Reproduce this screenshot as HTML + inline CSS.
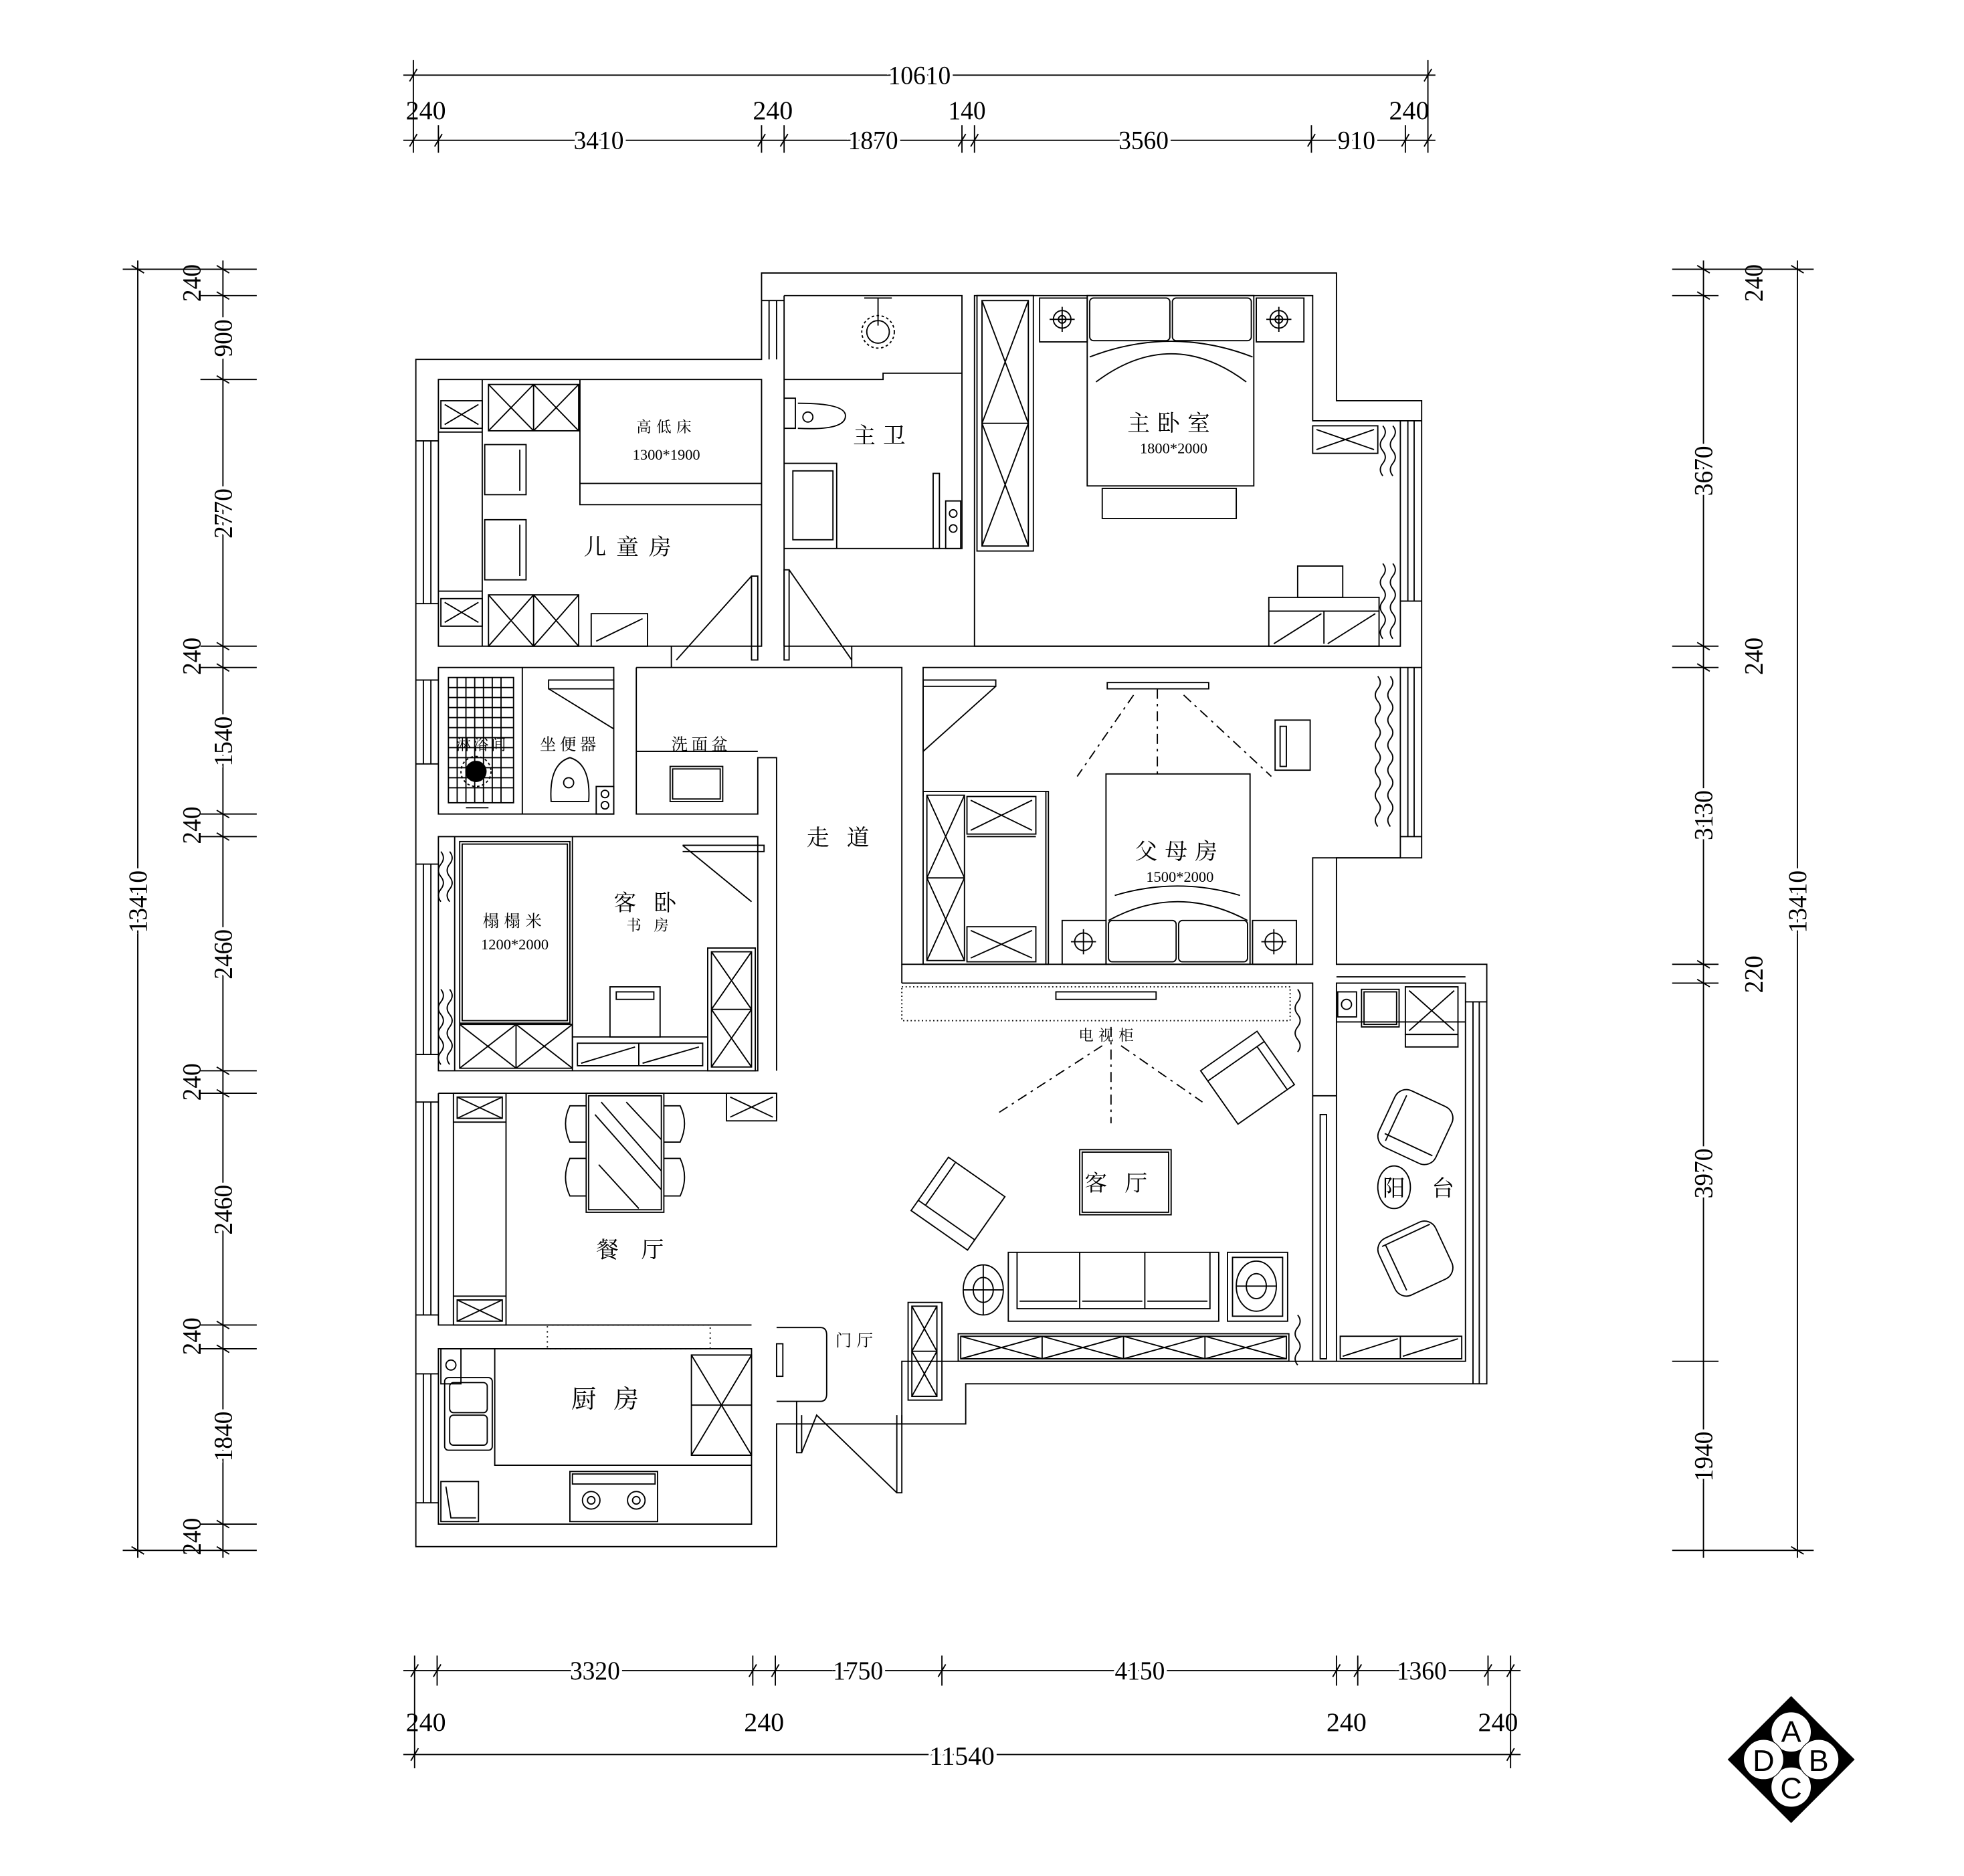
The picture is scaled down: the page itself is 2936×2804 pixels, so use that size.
<!DOCTYPE html>
<html><head><meta charset="utf-8"><style>
html,body{margin:0;padding:0;background:#fff;}
svg{display:block;}
.d{font-family:"Liberation Serif",serif;font-size:21px;}
.c{font-family:"Liberation Serif","Noto Serif CJK SC",serif;}
</style></head><body>
<svg width="2936" height="2804" viewBox="0 0 1568 1498" preserveAspectRatio="none" xmlns="http://www.w3.org/2000/svg">
<rect x="0" y="0" width="1568" height="1498" fill="#fff"/>
<g stroke="#000" stroke-width="1" fill="none">
<!-- TOP DIMENSIONS -->
<line x1="322" y1="60" x2="1146" y2="60"/>
<line x1="322" y1="112" x2="1146" y2="112"/>
<line x1="330" y1="48" x2="330" y2="122"/><line x1="1140" y1="48" x2="1140" y2="122"/>
<line x1="350" y1="100" x2="350" y2="122"/><line x1="608" y1="100" x2="608" y2="122"/><line x1="626" y1="100" x2="626" y2="122"/>
<line x1="768" y1="100" x2="768" y2="122"/><line x1="778" y1="100" x2="778" y2="122"/><line x1="1047" y1="100" x2="1047" y2="122"/><line x1="1122" y1="100" x2="1122" y2="122"/>
<path d="M327,65 L333,55 M1137,65 L1143,55 M327,117 L333,107 M347,117 L353,107 M605,117 L611,107 M623,117 L629,107 M765,117 L771,107 M775,117 L781,107 M1044,117 L1050,107 M1119,117 L1125,107 M1137,117 L1143,107"/>
<!-- LEFT DIMENSIONS -->
<line x1="110" y1="208" x2="110" y2="1244"/>
<line x1="178" y1="208" x2="178" y2="1244"/>
<path d="M98,215 L205,215 M160,236 L205,236 M160,303 L205,303 M160,516 L205,516 M160,533 L205,533 M160,650 L205,650 M160,668 L205,668 M160,855 L205,855 M160,873 L205,873 M160,1058 L205,1058 M160,1077 L205,1077 M160,1217 L205,1217 M98,1238 L205,1238"/>
<path d="M105,212 L115,218 M105,1235 L115,1241 M173,212 L183,218 M173,233 L183,239 M173,300 L183,306 M173,513 L183,519 M173,530 L183,536 M173,647 L183,653 M173,665 L183,671 M173,852 L183,858 M173,870 L183,876 M173,1055 L183,1061 M173,1074 L183,1080 M173,1214 L183,1220 M173,1235 L183,1241"/>
<!-- RIGHT DIMENSIONS -->
<line x1="1360" y1="208" x2="1360" y2="1244"/>
<line x1="1435" y1="208" x2="1435" y2="1244"/>
<path d="M1335,215 L1448,215 M1335,236 L1372,236 M1335,516 L1372,516 M1335,533 L1372,533 M1335,770 L1372,770 M1335,785 L1372,785 M1335,1087 L1372,1087 M1335,1238 L1448,1238"/>
<path d="M1355,212 L1365,218 M1355,233 L1365,239 M1355,513 L1365,519 M1355,530 L1365,536 M1355,767 L1365,773 M1355,782 L1365,788 M1430,212 L1440,218 M1430,1235 L1440,1241"/>
<!-- BOTTOM DIMENSIONS -->
<line x1="322" y1="1334" x2="1214" y2="1334"/>
<line x1="322" y1="1401" x2="1214" y2="1401"/>
<path d="M331,1322 L331,1412 M349,1322 L349,1346 M601,1322 L601,1346 M619,1322 L619,1346 M752,1322 L752,1346 M1067,1322 L1067,1346 M1084,1322 L1084,1346 M1188,1322 L1188,1346 M1206,1322 L1206,1412"/>
<path d="M328,1339 L334,1329 M346,1339 L352,1329 M598,1339 L604,1329 M616,1339 L622,1329 M749,1339 L755,1329 M1064,1339 L1070,1329 M1081,1339 L1087,1329 M1185,1339 L1191,1329 M1203,1339 L1209,1329 M328,1406 L334,1396 M1203,1406 L1209,1396"/>

<!-- OUTER WALL -->
<path d="M332,287 L608,287 L608,218 L1067,218 L1067,320 L1135,320 L1135,685 L1067,685 L1067,770 L1187,770 L1187,1105 L771,1105 L771,1137 L620,1137 L620,1235 L332,1235 Z"/>
<!-- inner rooms -->
<path d="M350,303 L608,303 L608,516 L350,516 Z"/>
<path d="M626,236 L768,236 L768,438 L626,438"/>
<path d="M626,236 L626,516"/>
<path d="M778,236 L1048,236 L1048,336 L1118,336 L1118,516 L778,516 Z"/>
<line x1="626" y1="516" x2="1118" y2="516"/>
<path d="M350,533 L490,533 L490,650 L350,650 Z"/>
<path d="M508,533 L720,533 L720,770 L1048,770 L1048,685 L1118,685 L1118,533 L737,533 L737,636"/>
<path d="M508,533 L508,650 L605,650 L605,605 L620,605 L620,855"/>
<path d="M350,668 L605,668 L605,855 L350,855 Z"/>
<path d="M350,873 L620,873 L620,893 M350,873 L350,1058 L600,1058"/>
<path d="M350,1077 L600,1077 L600,1217 L350,1217 Z"/>
<path d="M720,785 L1048,785 L1048,1087 L720,1087 L720,1137"/>
<path d="M1067,785 L1170,785 L1170,1087 L1067,1087 Z"/>
<path d="M720,770 L720,785"/>
<!-- windows -->
<path d="M332,352 L350,352 M332,482 L350,482 M338,352 L338,482 M344,352 L344,482"/>
<path d="M332,543 L350,543 M332,610 L350,610 M338,543 L338,610 M344,543 L344,610"/>
<path d="M332,690 L350,690 M332,842 L350,842 M338,690 L338,842 M344,690 L344,842"/>
<path d="M332,880 L350,880 M332,1050 L350,1050 M338,880 L338,1050 M344,880 L344,1050"/>
<path d="M332,1097 L350,1097 M332,1200 L350,1200 M338,1097 L338,1200 M344,1097 L344,1200"/>
<path d="M608,240 L626,240 M614,240 L614,287 M620,240 L620,287"/>
<path d="M1118,336 L1135,336 M1118,480 L1135,480 M1124,336 L1124,480 M1129,336 L1129,480"/>
<path d="M1118,533 L1135,533 M1118,668 L1135,668 M1124,533 L1124,668 M1129,533 L1129,668"/>
<path d="M1170,800 L1187,800 M1176,800 L1176,1105 M1181,800 L1181,1105"/>

<!-- KIDS ROOM -->
<rect x="352" y="320" width="33" height="22"/><path d="M355,323 L382,339 M382,323 L355,339"/>
<rect x="390" y="307" width="72" height="37"/><path d="M390,307 L426,344 M426,307 L390,344 M426,307 L462,344 M462,307 L426,344 M426,307 L426,344"/>
<path d="M463,303 L463,403 L608,403 M463,386 L608,386"/>
<path d="M350,345 L385,345 L385,472 L350,472 M385,303 L385,516"/>
<rect x="387" y="355" width="33" height="40"/><line x1="415" y1="359" x2="415" y2="392"/>
<rect x="387" y="415" width="33" height="48"/><line x1="415" y1="419" x2="415" y2="460"/>
<rect x="352" y="478" width="33" height="22"/><path d="M355,481 L382,497 M382,481 L355,497"/>
<rect x="390" y="475" width="72" height="41"/><path d="M390,475 L426,516 M426,475 L390,516 M426,475 L462,516 M462,475 L426,516 M426,475 L426,516"/>
<rect x="472" y="490" width="45" height="26"/><path d="M476,512 L513,494"/>
<path d="M600,460 L600,527 L605,527 L605,460 Z M600,460 L540,527 M536,516 L536,533"/>
<!-- MASTER BATH -->
<path d="M626,303 L705,303 L705,298 L768,298"/>
<path d="M690,238 L712,238 M701,238 L701,260"/>
<circle cx="701" cy="265" r="9"/><circle cx="701" cy="265" r="13" stroke-dasharray="2,2"/>
<path d="M626,318 L635,318 L635,342 L626,342 M637,322 Q675,322 675,332 Q675,344 637,342"/>
<circle cx="645" cy="333" r="4"/>
<path d="M626,370 L668,370 L668,438"/>
<rect x="633" y="376" width="32" height="55"/>
<path d="M745,378 L750,378 L750,438 L745,438 Z"/>
<rect x="755" y="400" width="12" height="38"/><circle cx="761" cy="410" r="3"/><circle cx="761" cy="422" r="3"/>
<path d="M626,455 L630,455 L630,527 L626,527 Z M630,455 L680,527 M680,516 L680,533"/>
<!-- WARDROBE -->
<rect x="780" y="236" width="45" height="204"/>
<rect x="784" y="240" width="37" height="196"/>
<path d="M784,338 L821,338 M784,240 L821,338 M821,240 L784,338 M784,338 L821,436 M821,338 L784,436"/>
<!-- MASTER BED -->
<rect x="830" y="238" width="38" height="35"/><circle cx="848" cy="255" r="7"/><circle cx="848" cy="255" r="3"/><path d="M838,255 L858,255 M848,245 L848,265"/>
<rect x="1003" y="238" width="38" height="35"/><circle cx="1021" cy="255" r="7"/><circle cx="1021" cy="255" r="3"/><path d="M1011,255 L1031,255 M1021,245 L1021,265"/>
<rect x="868" y="236" width="133" height="152"/>
<rect x="870" y="238" width="64" height="34" rx="3"/><rect x="936" y="238" width="63" height="34" rx="3"/>
<path d="M870,285 Q935,260 1000,285 M875,305 Q935,260 995,305"/>
<rect x="880" y="390" width="107" height="24"/>
<rect x="1048" y="340" width="52" height="22"/><path d="M1051,343 L1097,359 M1097,343 L1051,359"/>
<path d="M1104,340 Q1108,345 1104,350 Q1100,355 1104,360 Q1108,365 1104,370 Q1100,375 1104,380 M1112,340 Q1116,345 1112,350 Q1108,355 1112,360 Q1116,365 1112,370 Q1108,375 1112,380 M1104,450 Q1108,455 1104,460 Q1100,465 1104,470 Q1108,475 1104,480 Q1100,485 1104,490 Q1108,495 1104,500 Q1100,505 1104,510 M1112,450 Q1116,455 1112,460 Q1108,465 1112,470 Q1116,475 1112,480 Q1108,485 1112,490 Q1116,495 1112,500 Q1108,505 1112,510"/>
<rect x="1036" y="452" width="36" height="25"/>
<rect x="1013" y="477" width="88" height="39"/><path d="M1013,488 L1101,488 M1057,488 L1057,514 M1017,514 L1055,490 M1060,514 L1098,490"/>
<!-- BATHROOM -->
<rect x="358" y="541" width="52" height="100"/>
<path d="M365,541 V641 M372,541 V641 M379,541 V641 M386,541 V641 M393,541 V641 M400,541 V641 M358,549 H410 M358,557 H410 M358,565 H410 M358,573 H410 M358,581 H410 M358,589 H410 M358,597 H410 M358,605 H410 M358,613 H410 M358,621 H410 M358,629 H410"/>
<circle cx="380" cy="616" r="8" fill="#000"/><circle cx="380" cy="616" r="12" stroke-dasharray="2,2"/>
<path d="M372,645 L390,645"/>
<line x1="417" y1="533" x2="417" y2="650"/>
<path d="M438,543 L490,543 L490,550 L438,550 Z M438,550 L490,582"/>
<path d="M440,640 Q438,610 455,605 Q472,610 470,640 Z"/><circle cx="454" cy="625" r="4"/>
<rect x="476" y="628" width="14" height="22"/><circle cx="483" cy="634" r="3"/><circle cx="483" cy="643" r="3"/>
<path d="M508,600 L605,600"/>
<rect x="535" y="612" width="42" height="28"/><rect x="537" y="614" width="38" height="24"/>
<!-- HALL PARENTS ROOM -->
<path d="M737,543 L795,543 L795,548 L737,548 Z M737,548 L737,600 L795,548"/>
<path d="M884,545 L965,545 L965,550 L884,550 Z"/>
<g stroke-dasharray="8,4,2,4"><path d="M924,550 L924,620 M905,555 L860,620 M945,555 L1015,620"/></g>
<rect x="1018" y="575" width="28" height="40"/><rect x="1022" y="580" width="5" height="32"/>
<path d="M1100,540 Q1104,545 1100,550 Q1096,555 1100,560 Q1104,565 1100,570 Q1096,575 1100,580 Q1104,585 1100,590 Q1096,595 1100,600 Q1104,605 1100,610 Q1096,615 1100,620 Q1104,625 1100,630 Q1096,635 1100,640 Q1104,645 1100,650 Q1096,655 1100,660 M1110,540 Q1114,545 1110,550 Q1106,555 1110,560 Q1114,565 1110,570 Q1106,575 1110,580 Q1114,585 1110,590 Q1106,595 1110,600 Q1114,605 1110,610 Q1106,615 1110,620 Q1114,625 1110,630 Q1106,635 1110,640 Q1114,645 1110,650 Q1106,655 1110,660"/>
<rect x="737" y="632" width="100" height="138"/>
<rect x="740" y="635" width="30" height="132"/><path d="M740,635 L770,701 M770,635 L740,701 M740,701 L770,767 M770,701 L740,767 M740,701 L770,701"/>
<rect x="772" y="636" width="55" height="30"/><path d="M775,639 L824,663 M824,639 L775,663"/>
<rect x="772" y="740" width="55" height="28"/><path d="M775,743 L824,765 M824,743 L775,765"/>
<path d="M772,668 L827,668 M835,632 L835,770"/>
<rect x="848" y="735" width="35" height="35"/><circle cx="865" cy="752" r="7"/><path d="M855,752 L875,752 M865,742 L865,762"/>
<rect x="1000" y="735" width="35" height="35"/><circle cx="1017" cy="752" r="7"/><path d="M1007,752 L1027,752 M1017,742 L1017,762"/>
<rect x="883" y="618" width="115" height="152"/>
<rect x="885" y="735" width="54" height="33" rx="3"/><rect x="941" y="735" width="55" height="33" rx="3"/>
<path d="M885,735 Q940,705 996,735 M890,715 Q940,700 990,715"/>
<!-- GUEST ROOM -->
<path d="M352,680 Q356,685 352,690 Q348,695 352,700 Q356,705 352,710 Q348,715 352,720 M359,680 Q363,685 359,690 Q355,695 359,700 Q363,705 359,710 Q355,715 359,720 M352,790 Q356,795 352,800 Q348,805 352,810 Q356,815 352,820 Q348,825 352,830 Q356,835 352,840 Q348,845 352,850 M359,790 Q363,795 359,800 Q355,805 359,810 Q363,815 359,820 Q355,825 359,830 Q363,835 359,840 Q355,845 359,850"/>
<path d="M350,830 M363,668 L363,855"/>
<rect x="367" y="672" width="88" height="145"/><rect x="369" y="674" width="84" height="141"/>
<rect x="367" y="818" width="90" height="35"/><path d="M412,818 L412,853 M367,818 L412,853 M412,818 L367,853 M412,818 L457,853 M457,818 L412,853"/>
<path d="M457,668 L457,855 M457,828 L565,828"/>
<rect x="461" y="833" width="100" height="18"/><path d="M510,833 L510,851 M464,849 L507,836 M513,849 L558,836"/>
<rect x="487" y="788" width="40" height="40"/><rect x="492" y="792" width="30" height="6"/>
<rect x="565" y="757" width="38" height="98"/><rect x="568" y="760" width="32" height="92"/><path d="M568,760 L600,806 M600,760 L568,806 M568,806 L600,852 M600,806 L568,852 M568,806 L600,806"/>
<path d="M545,675 L610,675 L610,680 L545,680 M545,675 L600,720"/>
<!-- DINING -->
<rect x="362" y="873" width="42" height="185"/>
<rect x="365" y="876" width="36" height="17"/><path d="M365,876 L401,893 M401,876 L365,893"/>
<rect x="365" y="1038" width="36" height="17"/><path d="M365,1038 L401,1055 M401,1038 L365,1055"/>
<path d="M362,896 L404,896 M362,1035 L404,1035"/>
<rect x="580" y="873" width="40" height="22"/><path d="M583,876 L617,892 M617,876 L583,892"/>
<rect x="468" y="873" width="62" height="95"/><rect x="470" y="875" width="58" height="91"/>
<path d="M475,890 L528,950 M480,880 L528,935 M478,930 L510,965 M500,880 L528,910"/>
<path d="M468,883 L455,883 Q448,897 455,912 L468,912 M468,925 L455,925 Q448,940 455,955 L468,955 M530,883 L543,883 Q550,897 543,912 L530,912 M530,925 L543,925 Q550,940 543,955 L530,955"/>
<!-- KITCHEN -->
<rect x="437" y="1058" width="130" height="19" stroke-dasharray="1,3"/>
<path d="M395,1077 L395,1170 L600,1170"/>
<rect x="352" y="1077" width="16" height="28"/><circle cx="360" cy="1090" r="4"/>
<rect x="355" y="1100" width="38" height="58" rx="3"/><rect x="359" y="1104" width="30" height="24" rx="3"/><rect x="359" y="1130" width="30" height="24" rx="3"/>
<rect x="552" y="1082" width="48" height="80"/><path d="M552,1082 L600,1162 M600,1082 L552,1162 M552,1122 L600,1122"/>
<rect x="352" y="1183" width="30" height="32"/><path d="M356,1187 L360,1212 L380,1212"/>
<rect x="455" y="1175" width="70" height="40"/><rect x="457" y="1177" width="66" height="8"/>
<circle cx="472" cy="1198" r="7"/><circle cx="472" cy="1198" r="3"/><circle cx="508" cy="1198" r="7"/><circle cx="508" cy="1198" r="3"/>
<!-- ENTRY -->
<path d="M620,1060 L655,1060 Q660,1060 660,1066 L660,1113 Q660,1119 655,1119 L620,1119"/>
<rect x="620" y="1073" width="5" height="26"/>
<path d="M725,1040 L752,1040 L752,1118 L725,1118 Z"/>
<rect x="728" y="1043" width="20" height="72"/><path d="M728,1043 L748,1079 M748,1043 L728,1079 M728,1079 L748,1115 M748,1079 L728,1115 M728,1079 L748,1079"/>
<path d="M636,1119 L636,1160 L640,1160 L640,1130 M716,1130 L716,1192 L720,1192 L720,1130 M640,1160 L652,1130 L716,1192"/>
<!-- LIVING -->
<rect x="720" y="788" width="310" height="27" stroke-dasharray="1,2"/>
<rect x="843" y="792" width="80" height="6"/>
<g stroke-dasharray="8,4,2,4"><path d="M887,820 L887,897 M880,835 L795,890 M895,835 L960,880"/></g>
<g transform="rotate(-35 995 860)"><rect x="968" y="835" width="55" height="52"/><path d="M968,845 L1023,845 M1016,845 L1016,887"/></g>
<g transform="rotate(35 765 960)"><rect x="738" y="935" width="55" height="52"/><path d="M738,977 L793,977 M745,935 L745,977"/></g>
<rect x="862" y="918" width="73" height="52"/><rect x="864" y="920" width="69" height="48"/>
<rect x="805" y="1000" width="168" height="55"/>
<path d="M812,1000 L812,1045 L966,1045 L966,1000 M862,1000 L862,1045 M914,1000 L914,1045 M814,1039 L860,1039 M864,1039 L912,1039 M916,1039 L964,1039"/>
<ellipse cx="785" cy="1030" rx="16" ry="20"/><ellipse cx="785" cy="1030" rx="8" ry="10"/><path d="M769,1030 L801,1030 M785,1010 L785,1050"/>
<rect x="980" y="1000" width="48" height="55"/><rect x="984" y="1004" width="40" height="47"/><ellipse cx="1003" cy="1027" rx="16" ry="20"/><ellipse cx="1003" cy="1027" rx="8" ry="10"/><path d="M987,1027 L1019,1027"/>
<rect x="765" y="1065" width="264" height="22"/><rect x="767" y="1067" width="260" height="18"/>
<path d="M767,1067 L832,1085 M832,1067 L767,1085 M832,1067 L897,1085 M897,1067 L832,1085 M897,1067 L962,1085 M962,1067 L897,1085 M962,1067 L1027,1085 M1027,1067 L962,1085 M832,1067 V1085 M897,1067 V1085 M962,1067 V1085"/>
<path d="M1036,790 Q1040,795 1036,800 Q1032,805 1036,810 Q1040,815 1036,820 Q1032,825 1036,830 Q1040,835 1036,840 M1036,1050 Q1040,1055 1036,1060 Q1032,1065 1036,1070 Q1040,1075 1036,1080 Q1032,1085 1036,1090"/>
<path d="M1048,875 L1067,875 M1048,1087 L1067,1087 M1054,890 L1059,890 L1059,1085 L1054,1085 Z"/>
<!-- BALCONY -->
<path d="M1067,780 L1170,780"/>
<rect x="1068" y="792" width="15" height="20"/><circle cx="1075" cy="802" r="4"/>
<rect x="1087" y="790" width="30" height="30"/><rect x="1089" y="792" width="26" height="26"/>
<rect x="1122" y="788" width="42" height="38"/><path d="M1125,791 L1161,823 M1161,791 L1125,823"/>
<rect x="1122" y="826" width="42" height="10"/>
<path d="M1067,816 L1170,816"/>
<g transform="rotate(25 1130 900)"><rect x="1105" y="875" width="50" height="50" rx="10"/><path d="M1113,880 L1113,920 M1110,915 L1152,915"/></g>
<g transform="rotate(-25 1130 1005)"><rect x="1105" y="980" width="50" height="50" rx="10"/><path d="M1113,985 L1113,1025 M1110,985 L1152,985"/></g>
<ellipse cx="1113" cy="948" rx="13" ry="17"/>
<rect x="1070" y="1067" width="97" height="18"/><path d="M1118,1067 L1118,1085 M1072,1083 L1116,1069 M1120,1083 L1164,1069"/>

<!-- COMPASS -->
<path d="M1430,1355 L1480,1405 L1430,1455 L1380,1405 Z" fill="#000"/>
</g>
<g fill="#fff" stroke="#000" stroke-width="0.6">
<circle cx="1430" cy="1383" r="16"/><circle cx="1430" cy="1427" r="16"/><circle cx="1408" cy="1405" r="16"/><circle cx="1452" cy="1405" r="16"/>
</g>
<g font-family="Liberation Sans,sans-serif" font-size="24" text-anchor="middle" fill="#000">
<text x="1430" y="1391">A</text><text x="1430" y="1436">C</text><text x="1408" y="1414">D</text><text x="1452" y="1414">B</text>
</g>

<!-- DIMENSION TEXT -->
<g class="d" fill="#000" text-anchor="middle" stroke="#fff" stroke-width="5" paint-order="stroke">
<text x="734" y="67" textLength="50" lengthAdjust="spacingAndGlyphs">10610</text>
<text x="478" y="119" textLength="40" lengthAdjust="spacingAndGlyphs">3410</text>
<text x="697" y="119" textLength="40" lengthAdjust="spacingAndGlyphs">1870</text>
<text x="913" y="119" textLength="40" lengthAdjust="spacingAndGlyphs">3560</text>
<text x="1083" y="119" textLength="30" lengthAdjust="spacingAndGlyphs">910</text>
<text x="475" y="1341" textLength="40" lengthAdjust="spacingAndGlyphs">3320</text>
<text x="685" y="1341" textLength="40" lengthAdjust="spacingAndGlyphs">1750</text>
<text x="910" y="1341" textLength="40" lengthAdjust="spacingAndGlyphs">4150</text>
<text x="1135" y="1341" textLength="40" lengthAdjust="spacingAndGlyphs">1360</text>
<text x="768" y="1409" textLength="52" lengthAdjust="spacingAndGlyphs">11540</text>
</g>
<g class="d" fill="#000" text-anchor="middle">
<text x="340" y="95" textLength="32" lengthAdjust="spacingAndGlyphs">240</text>
<text x="617" y="95" textLength="32" lengthAdjust="spacingAndGlyphs">240</text>
<text x="772" y="95" textLength="30" lengthAdjust="spacingAndGlyphs">140</text>
<text x="1125" y="95" textLength="32" lengthAdjust="spacingAndGlyphs">240</text>
<text x="340" y="1382" textLength="32" lengthAdjust="spacingAndGlyphs">240</text>
<text x="610" y="1382" textLength="32" lengthAdjust="spacingAndGlyphs">240</text>
<text x="1075" y="1382" textLength="32" lengthAdjust="spacingAndGlyphs">240</text>
<text x="1196" y="1382" textLength="32" lengthAdjust="spacingAndGlyphs">240</text>
</g>
<g class="d" fill="#000" text-anchor="middle">
<text transform="translate(160,226) rotate(-90)" textLength="30" lengthAdjust="spacingAndGlyphs">240</text>
<text transform="translate(160,524) rotate(-90)" textLength="30" lengthAdjust="spacingAndGlyphs">240</text>
<text transform="translate(160,659) rotate(-90)" textLength="30" lengthAdjust="spacingAndGlyphs">240</text>
<text transform="translate(160,864) rotate(-90)" textLength="30" lengthAdjust="spacingAndGlyphs">240</text>
<text transform="translate(160,1067) rotate(-90)" textLength="30" lengthAdjust="spacingAndGlyphs">240</text>
<text transform="translate(160,1227) rotate(-90)" textLength="30" lengthAdjust="spacingAndGlyphs">240</text>
<text transform="translate(1407,226) rotate(-90)" textLength="30" lengthAdjust="spacingAndGlyphs">240</text>
<text transform="translate(1407,524) rotate(-90)" textLength="30" lengthAdjust="spacingAndGlyphs">240</text>
<text transform="translate(1407,778) rotate(-90)" textLength="30" lengthAdjust="spacingAndGlyphs">220</text>
</g>
<g class="d" fill="#000" text-anchor="middle" stroke="#fff" stroke-width="5" paint-order="stroke">
<text transform="translate(185,270) rotate(-90)" textLength="30" lengthAdjust="spacingAndGlyphs">900</text>
<text transform="translate(185,410) rotate(-90)" textLength="40" lengthAdjust="spacingAndGlyphs">2770</text>
<text transform="translate(185,592) rotate(-90)" textLength="40" lengthAdjust="spacingAndGlyphs">1540</text>
<text transform="translate(185,762) rotate(-90)" textLength="40" lengthAdjust="spacingAndGlyphs">2460</text>
<text transform="translate(185,966) rotate(-90)" textLength="40" lengthAdjust="spacingAndGlyphs">2460</text>
<text transform="translate(185,1147) rotate(-90)" textLength="40" lengthAdjust="spacingAndGlyphs">1840</text>
<text transform="translate(117,720) rotate(-90)" textLength="50" lengthAdjust="spacingAndGlyphs">13410</text>
<text transform="translate(1367,376) rotate(-90)" textLength="40" lengthAdjust="spacingAndGlyphs">3670</text>
<text transform="translate(1367,651) rotate(-90)" textLength="40" lengthAdjust="spacingAndGlyphs">3130</text>
<text transform="translate(1367,937) rotate(-90)" textLength="40" lengthAdjust="spacingAndGlyphs">3970</text>
<text transform="translate(1367,1163) rotate(-90)" textLength="40" lengthAdjust="spacingAndGlyphs">1940</text>
<text transform="translate(1442,720) rotate(-90)" textLength="50" lengthAdjust="spacingAndGlyphs">13410</text>
</g>

<!-- ROOM LABELS -->
<g class="c" fill="#000" text-anchor="middle">
<text x="505" y="443" font-size="18" letter-spacing="8">儿童房</text>
<text x="532" y="345" font-size="12" letter-spacing="4">高低床</text>
<text x="532" y="367" font-size="12">1300*1900</text>
<text x="705" y="354" font-size="18" letter-spacing="6">主卫</text>
<text x="936" y="344" font-size="18" letter-spacing="6">主卧室</text>
<text x="937" y="362" font-size="12">1800*2000</text>
<text x="385" y="599" font-size="12" letter-spacing="2">淋浴间</text>
<text x="455" y="599" font-size="13" letter-spacing="3">坐便器</text>
<text x="560" y="599" font-size="13" letter-spacing="3">洗面盆</text>
<text x="676" y="675" font-size="18" letter-spacing="14">走道</text>
<text x="942" y="686" font-size="18" letter-spacing="6">父母房</text>
<text x="942" y="704" font-size="12">1500*2000</text>
<text x="522" y="727" font-size="18" letter-spacing="14">客卧</text>
<text x="522" y="743" font-size="12" letter-spacing="10">书房</text>
<text x="411" y="740" font-size="13" letter-spacing="4">榻榻米</text>
<text x="411" y="758" font-size="12">1200*2000</text>
<text x="885" y="831" font-size="12" letter-spacing="4">电视柜</text>
<text x="898" y="951" font-size="18" letter-spacing="14">客厅</text>
<text x="512" y="1004" font-size="18" letter-spacing="18">餐厅</text>
<text x="684" y="1075" font-size="13" letter-spacing="4">门厅</text>
<text x="490" y="1124" font-size="20" letter-spacing="14">厨房</text>
<text x="1113" y="955" font-size="18">阳</text>
<text x="1152" y="955" font-size="18">台</text>
</g>
</svg>
</body></html>
